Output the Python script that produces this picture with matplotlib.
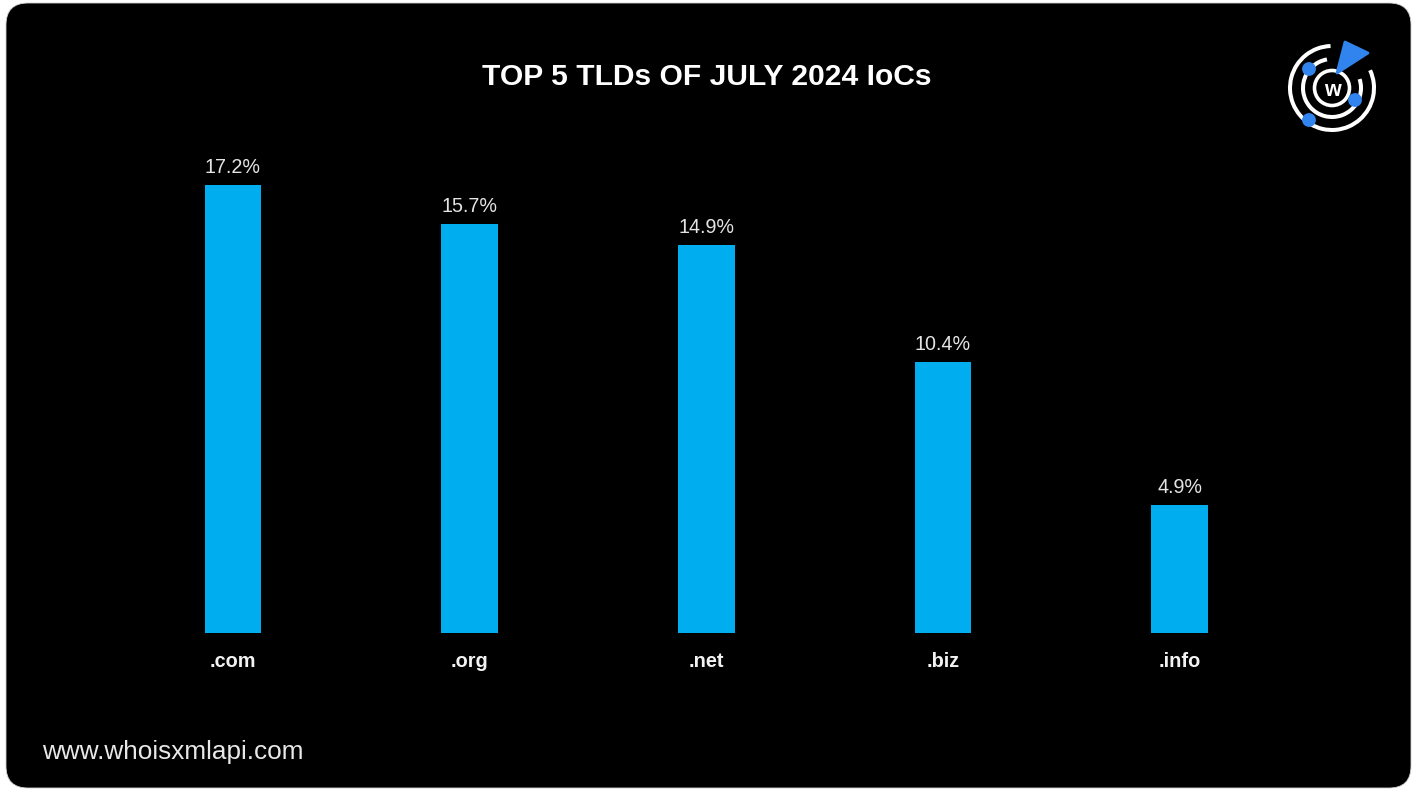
import matplotlib
matplotlib.use("Agg")
import matplotlib.pyplot as plt
from matplotlib.patches import FancyBboxPatch, Arc, Circle, Polygon

# ---- data ----
categories = [".com", ".org", ".net", ".biz", ".info"]
values = [17.2, 15.7, 14.9, 10.4, 4.9]
value_labels = ["17.2%", "15.7%", "14.9%", "10.4%", "4.9%"]
title = "TOP 5 TLDs OF JULY 2024 IoCs"
footer = "www.whoisxmlapi.com"

W, H = 1417, 791
plt.rcParams['font.family'] = ['Liberation Sans', 'DejaVu Sans']

fig = plt.figure(figsize=(W / 100, H / 100), dpi=100)
fig.patch.set_facecolor('white')

# background rounded black card
bg = fig.add_axes([0, 0, 1, 1])
bg.set_xlim(0, W)
bg.set_ylim(H, 0)
bg.axis('off')
bg.add_patch(FancyBboxPatch((6, 3), W - 12, H - 6,
                            boxstyle="round,pad=0,rounding_size=22",
                            facecolor='black', edgecolor='#d0d0d0', lw=0.6))

# bar axes
ax = fig.add_axes([114.6 / W, (H - 633) / H, 1183.5 / W, 468.9 / H])
ax.set_facecolor('none')
x = list(range(len(categories)))
bars = ax.bar(x, values, width=0.24, color='#00adef')
ax.set_xlim(-0.5, len(categories) - 0.5)
ax.set_ylim(0, 18)
ax.axis('off')

for xi, v, lab in zip(x, values, value_labels):
    ax.annotate(lab, (xi, v), xytext=(0, 8.6), textcoords='offset points',
                ha='center', va='baseline', fontsize=14.2, color='#e4e4e4')

for xi, cat in zip(x, categories):
    ax.annotate(cat, (xi, 0), xycoords=('data', 'axes fraction'),
                xytext=(0, -24.5), textcoords='offset points',
                ha='center', va='baseline', fontsize=14.3,
                fontweight='bold', color='#f2f2f2')

fig.text(706.5 / W, 1 - 85 / H, title, ha='center', va='baseline',
         fontsize=21.6, fontweight='bold', color='white')
fig.text(42 / W, 1 - 759 / H, footer, ha='left', va='baseline',
         fontsize=18.8, color='#e8e8e8')

# logo
lg = fig.add_axes([1282 / W, (H - 138) / H, 100 / W, 100 / H])
lg.set_xlim(-50, 50)
lg.set_ylim(-50, 50)
lg.set_aspect('equal')
lg.axis('off')
blue = '#3184ee'
lg.add_patch(Arc((0, 0), 84, 84, theta1=92, theta2=385, color='white', lw=2.9))
lg.add_patch(Arc((0, 0), 58, 58, theta1=100, theta2=378, color='white', lw=2.9))
lg.add_patch(Circle((0, 0), 17.5, fill=False, edgecolor='white', lw=2.6))
lg.text(0, 0, 'w', ha='center', va='center_baseline', fontsize=15.5,
        fontweight='bold', color='white')
for cx, cy in [(-23, 19), (23, -12), (-23, -32)]:
    lg.add_patch(Circle((cx, cy), 6.2, color=blue))
lg.add_patch(Polygon([(5, 15), (13, 46), (36, 35)], closed=True,
                     facecolor=blue, edgecolor=blue, lw=2, joinstyle='round'))

fig.savefig('out.png', dpi=100, facecolor=fig.get_facecolor())
